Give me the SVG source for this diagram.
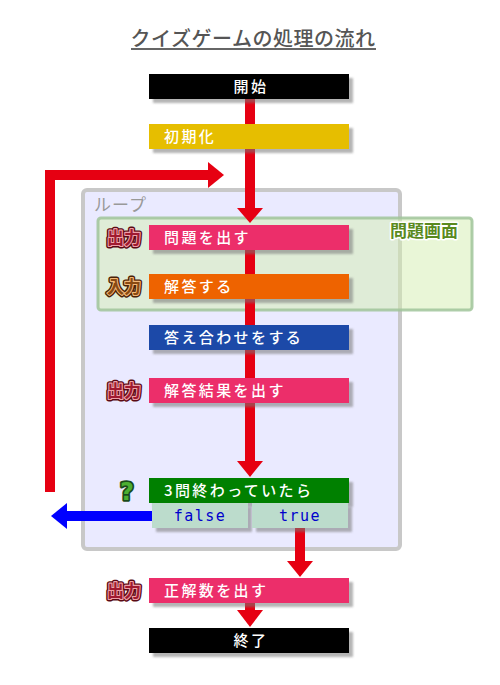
<svg xmlns="http://www.w3.org/2000/svg" width="500" height="685" viewBox="0 0 500 685">
<defs>
<filter id="sh" x="-10%" y="-30%" width="130%" height="180%">
<feDropShadow dx="4" dy="4" stdDeviation="1" flood-color="#777" flood-opacity="0.55"/>
</filter>
</defs>
<style>
.t{font-family:"Noto Sans CJK JP","Noto Sans",sans-serif;font-size:15px;fill:#fff;letter-spacing:2.4px;font-weight:500}
.c{text-anchor:middle}
.mono{font-family:"DejaVu Sans Mono","Liberation Mono",monospace;font-size:15px;fill:#0000cc;letter-spacing:1.5px;text-anchor:middle}
.red{fill:#e60012}
.lbl{font-family:"Noto Sans CJK JP",sans-serif;font-size:17px;font-weight:bold}
.od{stroke:#5a0a14;stroke-width:5;stroke-linejoin:round}
.op{fill:#a01a30;stroke:#f0a0a8;stroke-width:2.2;stroke-linejoin:round;paint-order:stroke}
.odb{stroke:#4a2206;stroke-width:5;stroke-linejoin:round}
.ob{fill:#8a4a12;stroke:#f4b878;stroke-width:2.2;stroke-linejoin:round;paint-order:stroke}
</style>
<rect width="500" height="685" fill="#fff"/>
<g id="title">
<text x="253" y="46" text-anchor="middle" font-family="Noto Sans CJK JP,sans-serif" font-size="20" fill="#555" font-weight="500" letter-spacing="0.5">クイズゲームの処理の流れ</text>
<rect x="131" y="48" width="245" height="2" fill="#666"/>
</g>
<g id="loop">
<rect x="83" y="190" width="317" height="359" rx="4" fill="#eaeaff" stroke="#c8c8c8" stroke-width="4"/>
<text x="94" y="211" font-family="Noto Sans CJK JP,sans-serif" font-size="17" fill="#999" letter-spacing="1">ループ</text>
</g>
<g id="screen">
<rect x="98" y="218" width="374" height="92" rx="3" fill="#d4eeb0" fill-opacity="0.5" stroke="#a0c49a" stroke-opacity="0.85" stroke-width="3"/>
<text x="424" y="237" text-anchor="middle" class="lbl" font-size="16.5" fill="#5a8a1e" stroke="#fff" stroke-width="3" stroke-linejoin="round" paint-order="stroke">問題画面</text>
</g>
<g id="connectors">
<path d="M50,492 V175 H210" fill="none" stroke="#e60012" stroke-width="10"/>
<polygon class="red" points="208,162 224,175 208,188"/>
<rect class="red" x="245" y="99" width="10" height="111"/>
<polygon class="red" points="237,208 263,208 250,223"/>
<rect class="red" x="245" y="240" width="10" height="223"/>
<polygon class="red" points="237,461 263,461 250,477"/>
<rect class="red" x="295" y="528" width="10" height="35"/>
<polygon class="red" points="287,561 313,561 300,577"/>
<rect class="red" x="245" y="603" width="10" height="9"/>
<polygon class="red" points="237,610 263,610 250,627"/>
<rect x="65" y="511" width="88" height="10" fill="#0000ff"/>
<polygon points="67,503 51,516 67,529" fill="#0000ff"/>
</g>
<g id="start"><rect x="149" y="74" width="200" height="25" fill="#000" filter="url(#sh)"/><text class="t c" x="251" y="92">開始</text></g>
<g id="init"><rect x="149" y="124" width="200" height="25" fill="#e6be00" filter="url(#sh)"/><text class="t" x="164" y="142">初期化</text></g>
<g id="ask"><rect x="149" y="225" width="200" height="25" fill="#ec2d6a" filter="url(#sh)"/><text class="t" x="164" y="243">問題を出す</text>
<text x="107" y="244" class="lbl od">出力</text><text x="107" y="244" class="lbl op">出力</text></g>
<g id="answer"><rect x="149" y="274" width="200" height="25" fill="#ee6400" filter="url(#sh)"/><text class="t" x="164" y="292">解答する</text>
<text x="107" y="293" class="lbl odb">入力</text><text x="107" y="293" class="lbl ob">入力</text></g>
<g id="check"><rect x="149" y="325" width="200" height="25" fill="#1e4aa8" filter="url(#sh)"/><text class="t" x="164" y="343">答え合わせをする</text></g>
<g id="result"><rect x="149" y="378" width="200" height="25" fill="#ec2d6a" filter="url(#sh)"/><text class="t" x="164" y="396">解答結果を出す</text>
<text x="107" y="397" class="lbl od">出力</text><text x="107" y="397" class="lbl op">出力</text></g>
<g id="cond"><rect x="149" y="478" width="200" height="25" fill="#008000" filter="url(#sh)"/><text class="t" x="164" y="496">3問終わっていたら</text>
<text x="127" y="500" text-anchor="middle" font-family="DejaVu Sans,sans-serif" font-weight="bold" font-size="24" fill="#4caf30" stroke="#1a4a1a" stroke-width="3.5" stroke-linejoin="round" paint-order="stroke">?</text>
<rect x="152" y="503" width="96" height="25" fill="#bcdccc" filter="url(#sh)"/><text class="mono" x="200" y="521">false</text>
<rect x="252" y="503" width="96" height="25" fill="#bcdccc" filter="url(#sh)"/><text class="mono" x="300" y="521">true</text></g>
<g id="score"><rect x="149" y="578" width="200" height="25" fill="#ec2d6a" filter="url(#sh)"/><text class="t" x="164" y="596">正解数を出す</text>
<text x="107" y="597" class="lbl od">出力</text><text x="107" y="597" class="lbl op">出力</text></g>
<g id="end"><rect x="149" y="628" width="200" height="25" fill="#000" filter="url(#sh)"/><text class="t c" x="251" y="646">終了</text></g>
</svg>
